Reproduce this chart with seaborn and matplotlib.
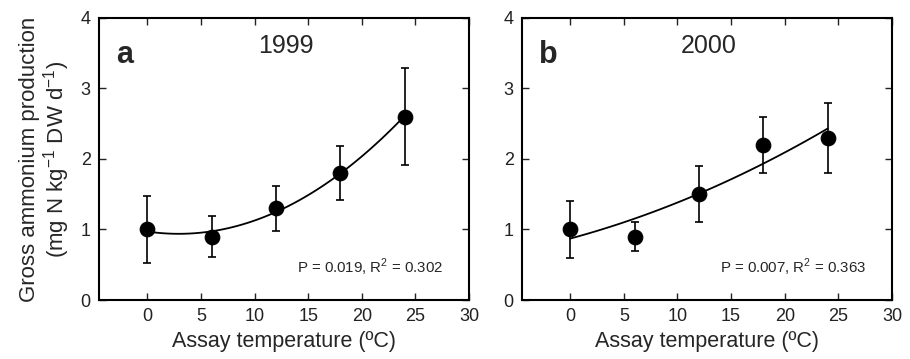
import numpy as np
import pandas as pd
import seaborn as sns
import matplotlib.pyplot as plt

# data
temp = [0, 6, 12, 18, 24]
mean_1999 = [1.0, 0.9, 1.3, 1.8, 2.6]
err_1999 = [0.47, 0.29, 0.32, 0.38, 0.69]
mean_2000 = [1.0, 0.9, 1.5, 2.2, 2.3]
err_2000 = [0.4, 0.2, 0.4, 0.4, 0.5]
stats_1999 = "P = 0.019, R$^2$ = 0.302"
stats_2000 = "P = 0.007, R$^2$ = 0.363"

sns.set_style("ticks")
plt.rcParams['font.family'] = ['Liberation Sans', 'DejaVu Sans']
plt.rcParams['mathtext.fontset'] = 'custom'
plt.rcParams['mathtext.rm'] = 'Liberation Sans'

fig = plt.figure(figsize=(9.1, 3.59), dpi=100)
ax1 = fig.add_axes([0.1088, 0.1643, 0.4066, 0.7857])
ax2 = fig.add_axes([0.5736, 0.1643, 0.4066, 0.7857])

panels = [
    (ax1, mean_1999, err_1999, 'a', '1999', stats_1999),
    (ax2, mean_2000, err_2000, 'b', '2000', stats_2000),
]

for ax, mean, err, letter, year, stat in panels:
    df = pd.DataFrame({'temp': temp, 'rate': mean})
    # quadratic regression line over the measured range
    coef = np.polyfit(temp, mean, 2)
    xs = np.linspace(0, 24, 100)
    fit = pd.DataFrame({'temp': xs, 'rate': np.polyval(coef, xs)})
    sns.lineplot(data=fit, x='temp', y='rate', ax=ax, color='black', lw=1.3)
    ax.errorbar(temp, mean, yerr=err, fmt='none', ecolor='black',
                elinewidth=1.2, capsize=3, capthick=1.2)
    sns.scatterplot(data=df, x='temp', y='rate', ax=ax, color='black',
                    s=110, edgecolor='black', zorder=5)

    ax.set_xlim(-4.5, 30)
    ax.set_ylim(0, 4)
    ax.set_xticks([0, 5, 10, 15, 20, 25, 30])
    ax.set_yticks([0, 1, 2, 3, 4])
    ax.tick_params(direction='in', length=5, width=1, top=True, right=True,
                   labelsize=13, pad=6, colors='#222222')
    for spine in ax.spines.values():
        spine.set_visible(True)
        spine.set_linewidth(1.5)
        spine.set_color('black')
    ax.set_xlabel('Assay temperature (ºC)', fontsize=15.5, labelpad=4)
    ax.set_ylabel('')
    ax.text(-2.9, 3.47, letter, fontsize=22, fontweight='bold', va='center')
    ax.text(12.9, 3.6, year, fontsize=18, ha='center', va='center')
    ax.text(27.6, 0.47, stat, fontsize=10.8, ha='right', va='center')

ax1.set_ylabel('Gross ammonium production\n(mg N kg$^{-1}$ DW d$^{-1}$)',
               fontsize=16, labelpad=6, linespacing=1.05)

fig.savefig('out.png', dpi=100)
